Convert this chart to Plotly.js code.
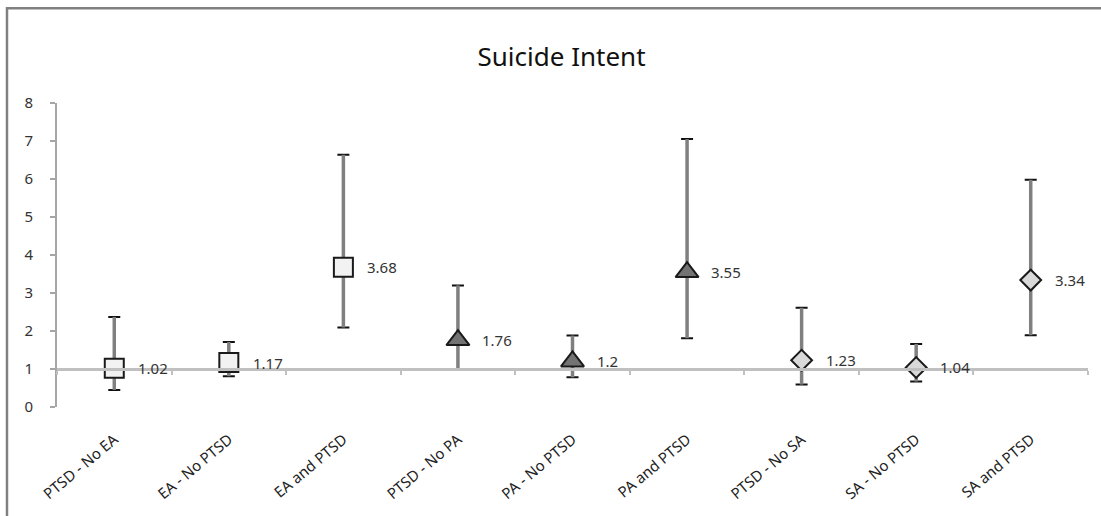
<!DOCTYPE html>
<html>
<head>
<meta charset="utf-8">
<script src="https://cdn.plot.ly/plotly-3.0.1.min.js"></script>
<style>
html, body { margin: 0; padding: 0; background: #ffffff; }
#chart { width: 1101px; height: 516px; }
</style>
</head>
<body>
<div id="chart"></div>
<script>
const categories = ["PTSD - No EA", "EA - No PTSD", "EA and PTSD",
                    "PTSD - No PA", "PA - No PTSD", "PA and PTSD",
                    "PTSD - No SA", "SA - No PTSD", "SA and PTSD"];
const means = [1.02, 1.17, 3.68, 1.76, 1.2, 3.55, 1.23, 1.04, 3.34];
const upper = [2.37, 1.71, 6.64, 3.2, 1.88, 7.05, 2.61, 1.66, 5.98];
const lower = [0.45, 0.81, 2.09, 1.0, 0.78, 1.81, 0.59, 0.67, 1.89];
const groupNames = ["EA", "PA", "SA"];
const yTicks = [0, 1, 2, 3, 4, 5, 6, 7, 8];

const plus = means.map((m, i) => +(upper[i] - m).toFixed(3));
const minus = means.map((m, i) => +(m - lower[i]).toFixed(3));

const groupStyles = [
  {symbol: "square", color: "#f2f2f2", line: "#1a1a1a", size: 19},
  {symbol: "triangle-up", color: "#737373", line: "#1a1a1a", size: 20},
  {symbol: "diamond", color: "#d9d9d9", line: "#1a1a1a", size: 16}
];

const traces = [];
// black caps layer
traces.push({
  type: "scatter", mode: "markers", x: categories, y: means,
  marker: {opacity: 0, size: 1}, hoverinfo: "skip", showlegend: false,
  error_y: {type: "data", symmetric: false, array: plus, arrayminus: minus,
            color: "#111111", thickness: 2, width: 6}
});
// gray stem layer
traces.push({
  type: "scatter", mode: "markers", x: categories, y: means,
  marker: {opacity: 0, size: 1}, hoverinfo: "skip", showlegend: false,
  error_y: {type: "data", symmetric: false, array: plus, arrayminus: minus,
            color: "#808080", thickness: 3.5, width: 0}
});
groupNames.forEach((g, k) => {
  const st = groupStyles[k];
  traces.push({
    type: "scatter", mode: "markers", name: g,
    x: categories.slice(3 * k, 3 * k + 3),
    y: means.slice(3 * k, 3 * k + 3),
    marker: {symbol: st.symbol, size: st.size, color: st.color,
             line: {color: st.line, width: 2}},
    showlegend: false
  });
});

const annotations = categories.map((c, i) => ({
  x: c, y: means[i], xref: "x", yref: "y",
  text: String(means[i]), showarrow: false,
  xanchor: "left", yanchor: "middle", xshift: 22,
  font: {family: "Noto Sans, Open Sans, sans-serif", size: 15, color: "#333333"}
}));

const layout = {
  width: 1101, height: 516,
  paper_bgcolor: "#ffffff", plot_bgcolor: "#ffffff",
  margin: {l: 57, r: 13, t: 103, b: 109},
  font: {family: "Noto Sans, Open Sans, sans-serif", color: "#333333"},
  title: {text: "Suicide Intent", x: 0.51, xref: "container", xanchor: "center",
          y: 0.89, yref: "container", yanchor: "middle",
          font: {family: "Noto Sans, Open Sans, sans-serif", size: 26, color: "#111111"}},
  showlegend: false,
  xaxis: {
    type: "category", categoryorder: "array", categoryarray: categories,
    range: [-0.5, categories.length - 0.5],
    anchor: "free", position: 1 / 8,
    showline: true, linecolor: "#c0c0c0", linewidth: 3,
    ticks: "outside", tickson: "boundaries", ticklen: 4, tickwidth: 2, tickcolor: "#c0c0c0",
    showgrid: false, zeroline: false,
    tickangle: -40, ticklabelstandoff: 54,
    tickfont: {family: "Noto Sans, Open Sans, sans-serif", size: 15, color: "#222222"}
  },
  yaxis: {
    range: [0, 8], tickvals: yTicks, ticktext: yTicks.map(String),
    showline: true, linecolor: "#a6a6a6", linewidth: 2,
    ticks: "outside", ticklen: 5, tickwidth: 2, tickcolor: "#a6a6a6",
    showgrid: false, zeroline: false, ticklabelstandoff: 14,
    tickfont: {family: "Noto Sans, Open Sans, sans-serif", size: 15, color: "#333333"}
  },
  shapes: [{
    type: "rect", xref: "paper", yref: "paper",
    x0: -0.0485, x1: 1.2, y0: -0.6, y1: 1.312,
    line: {color: "#808080", width: 2.5}, fillcolor: "rgba(0,0,0,0)", layer: "below"
  }],
  annotations: annotations
};

Plotly.newPlot("chart", traces, layout, {displayModeBar: false, staticPlot: true});
</script>
</body>
</html>
